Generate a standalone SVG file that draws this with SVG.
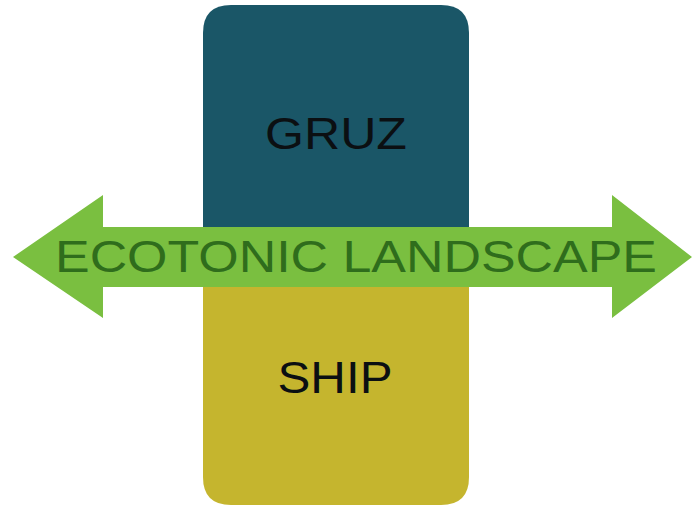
<svg xmlns="http://www.w3.org/2000/svg" width="693" height="508" viewBox="0 0 693 508">
<style>
.lbl{font-family:"Liberation Sans",Arial,sans-serif;font-size:45px;text-anchor:middle;fill:#0b0f12}
.arrowtxt{font-family:"Liberation Sans",Arial,sans-serif;font-size:44px;fill:#2f6d1c}
</style>
<rect width="693" height="508" fill="#ffffff"/>
<g id="gruz">
<path d="M203,257 V33 Q203,5 231,5 H441 Q469,5 469,33 V257 Z" fill="#1a5667"/>
<text class="lbl" x="336" y="149" textLength="142" lengthAdjust="spacingAndGlyphs">GRUZ</text>
</g>
<g id="ship">
<path d="M203,257 H469 V477 Q469,505 441,505 H231 Q203,505 203,477 Z" fill="#c5b52e"/>
<text class="lbl" x="335" y="393" textLength="115" lengthAdjust="spacingAndGlyphs">SHIP</text>
</g>
<g id="connectors">
<g id="ecotonic">
<path d="M13,257 L103,195 V227 H612 V195 L692,257 L612,318 V287 H103 V318 Z" fill="#7abf40"/>
<text class="arrowtxt" x="55" y="272" textLength="602" lengthAdjust="spacingAndGlyphs">ECOTONIC LANDSCAPE</text>
</g>
</g>
</svg>
